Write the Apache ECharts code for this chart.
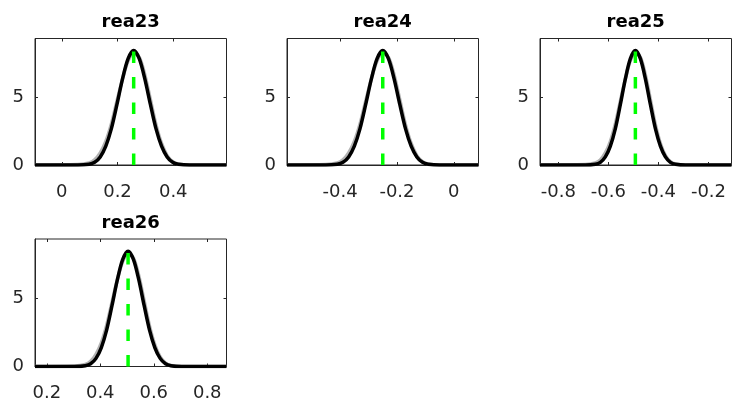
<!DOCTYPE html>
<html>
<head>
<meta charset="utf-8">
<script src="https://cdn.jsdelivr.net/npm/echarts@6/dist/echarts.min.js"></script>
<style>
html,body{margin:0;padding:0;background:#fff}
#main{width:733px;height:405px}
</style>
</head>
<body>
<div id="main"></div>
<script>
// panel titles and axis ranges
var names = ['rea23', 'rea24', 'rea25', 'rea26'];
var modes = [0.258, -0.25, -0.492, 0.504];
var xMins = [-0.096, -0.587, -0.873, 0.156];
var xMaxs = [0.591, 0.087, -0.108, 0.872];
var xTicks = [[0, 0.2, 0.4], [-0.4, -0.2, 0], [-0.8, -0.6, -0.4, -0.2], [0.2, 0.4, 0.6, 0.8]];
var yTicks = [0, 5];
var yMax = 9.4;
var peaks = [8.5, 8.5, 8.5, 8.5];

// x of sampled density points, one row per panel
var xs = [
    [-0.096, 0.058, 0.098, 0.118, 0.138, 0.158, 0.178, 0.198, 0.218, 0.238, 0.258, 0.278, 0.298, 0.318, 0.338, 0.358, 0.378, 0.398, 0.418, 0.458, 0.591],
    [-0.587, -0.45, -0.41, -0.39, -0.37, -0.35, -0.33, -0.31, -0.29, -0.27, -0.25, -0.23, -0.21, -0.19, -0.17, -0.15, -0.13, -0.11, -0.09, -0.05, 0.087],
    [-0.873, -0.692, -0.652, -0.632, -0.612, -0.592, -0.572, -0.552, -0.532, -0.512, -0.492, -0.472, -0.452, -0.432, -0.412, -0.392, -0.372, -0.352, -0.332, -0.292, -0.108],
    [0.156, 0.304, 0.344, 0.364, 0.384, 0.404, 0.424, 0.444, 0.464, 0.484, 0.504, 0.524, 0.544, 0.564, 0.584, 0.604, 0.624, 0.644, 0.664, 0.704, 0.872]
];
// posterior (black) and prior (gray) density
var postDens = [0, 0, 0.06, 0.2, 0.6, 1.4, 2.7, 4.5, 6.4, 7.9, 8.5, 7.9, 6.4, 4.5, 2.7, 1.4, 0.6, 0.2, 0.06, 0, 0];
var priorDens = [0, 0.03, 0.15, 0.38, 0.9, 1.75, 3.05, 4.75, 6.4, 7.75, 8.3, 8.0, 6.7, 4.85, 3.0, 1.6, 0.7, 0.25, 0.08, 0, 0];

var gridPos = [
    {left: 35, top: 38.5, width: 191.5, height: 126.5},
    {left: 287, top: 38.5, width: 191.5, height: 126.5},
    {left: 540, top: 38.5, width: 191.5, height: 126.5},
    {left: 35, top: 239, width: 191.5, height: 127.5}
];
var titleTop = [13, 13, 13, 214];

var axisColor = '#262626';
var font = 'DejaVu Sans';

function pairs(x, y) {
    var out = [];
    for (var i = 0; i < x.length; i++) out.push([x[i], y[i]]);
    return out;
}

var grids = [], xAxes = [], yAxes = [], series = [], titles = [];
for (var p = 0; p < 4; p++) {
    var g = gridPos[p];
    grids.push({
        left: g.left, top: g.top, width: g.width, height: g.height,
        show: true, borderColor: axisColor, borderWidth: 1,
        outerBoundsMode: 'none'
    });
    titles.push({
        text: names[p],
        left: g.left + g.width / 2,
        top: titleTop[p],
        textAlign: 'center',
        padding: 0,
        textStyle: {fontFamily: font, fontSize: 18, fontWeight: 'bold', color: '#000'}
    });
    // bottom / top x axes
    xAxes.push({
        type: 'value', gridIndex: p, min: xMins[p], max: xMaxs[p], position: 'bottom',
        axisLine: {show: true, onZero: false, lineStyle: {color: axisColor}},
        axisTick: {inside: true, length: 3, customValues: xTicks[p], lineStyle: {color: axisColor}},
        axisLabel: {customValues: xTicks[p], margin: 18, fontFamily: font, fontSize: 18, color: axisColor},
        splitLine: {show: false}
    });
    xAxes.push({
        type: 'value', gridIndex: p, min: xMins[p], max: xMaxs[p], position: 'top',
        axisLine: {show: false, onZero: false},
        axisTick: {inside: true, length: 3, customValues: xTicks[p], lineStyle: {color: axisColor}},
        axisLabel: {show: false},
        splitLine: {show: false}
    });
    // left / right y axes
    yAxes.push({
        type: 'value', gridIndex: p, min: 0, max: yMax, position: 'left',
        axisLine: {show: true, onZero: false, lineStyle: {color: axisColor}},
        axisTick: {inside: true, length: 3, customValues: yTicks, lineStyle: {color: axisColor}},
        axisLabel: {customValues: yTicks, margin: 11, fontFamily: font, fontSize: 18, color: axisColor},
        splitLine: {show: false}
    });
    yAxes.push({
        type: 'value', gridIndex: p, min: 0, max: yMax, position: 'right',
        axisLine: {show: false, onZero: false},
        axisTick: {inside: true, length: 3, customValues: yTicks, lineStyle: {color: axisColor}},
        axisLabel: {show: false},
        splitLine: {show: false}
    });

    series.push({
        type: 'line', xAxisIndex: 2 * p, yAxisIndex: 2 * p,
        data: pairs(xs[p], priorDens), smooth: 0.3, showSymbol: false, symbol: 'none',
        lineStyle: {color: '#b3b3b3', width: 3.5}, silent: true, animation: false
    });
    series.push({
        type: 'line', xAxisIndex: 2 * p, yAxisIndex: 2 * p,
        data: pairs(xs[p], postDens), smooth: 0.3, showSymbol: false, symbol: 'none',
        lineStyle: {color: '#000', width: 3.5}, silent: true, animation: false
    });
    // mode marker
    series.push({
        type: 'line', xAxisIndex: 2 * p, yAxisIndex: 2 * p,
        data: [[modes[p], 0], [modes[p], peaks[p]]], showSymbol: false, symbol: 'none',
        lineStyle: {color: '#00ff00', width: 3.5, type: [11.5, 14]}, silent: true, animation: false
    });
}

var option = {
    backgroundColor: '#fff',
    animation: false,
    title: titles,
    grid: grids,
    xAxis: xAxes,
    yAxis: yAxes,
    series: series
};
var myChart = echarts.init(document.getElementById('main'));
myChart.setOption(option);
</script>
</body>
</html>
